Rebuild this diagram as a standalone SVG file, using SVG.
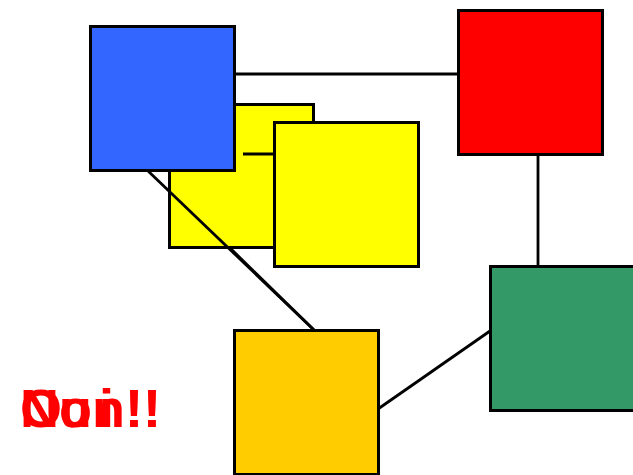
<svg xmlns="http://www.w3.org/2000/svg" width="633" height="475" viewBox="0 0 633 475">
<style>
.n{stroke:#000;stroke-width:3}
.c line{stroke:#000;stroke-width:2.8}
.t{font-family:"Liberation Sans",Arial,sans-serif;font-weight:bold;font-size:54px;fill:#FF0000}
</style>
<rect width="633" height="475" fill="#fff"/>
<g id="yellow1"><rect class="n" x="169.5" y="104.5" width="144" height="143" fill="#FFFF00"/></g>
<g id="connectors" class="c">
<line x1="234" y1="74" x2="458" y2="74"/>
<line x1="538" y1="154" x2="538" y2="266"/>
<line x1="490" y1="331" x2="378" y2="409"/>
<line x1="147" y1="170" x2="314" y2="330"/>
<line x1="230" y1="248" x2="314" y2="330"/>
<line x1="243" y1="154" x2="300" y2="154"/>
</g>
<g id="yellow2"><rect class="n" x="274.5" y="122.5" width="144" height="144" fill="#FFFF00"/></g>
<g id="blue"><rect class="n" x="90.5" y="26.5" width="144" height="144" fill="#3366FF"/></g>
<g id="red"><rect class="n" x="458.5" y="10.5" width="144" height="144" fill="#FF0000"/></g>
<g id="green"><rect class="n" x="490.5" y="266.5" width="144" height="144" fill="#339966"/></g>
<g id="orange"><rect class="n" x="234.5" y="330.5" width="144" height="144" fill="#FFCC00"/></g>
<g id="labels">
<text class="t" x="20" y="427">Non!!</text>
<text class="t" x="20 59 99 125 143" y="427">Oui!!</text>
</g>
</svg>
